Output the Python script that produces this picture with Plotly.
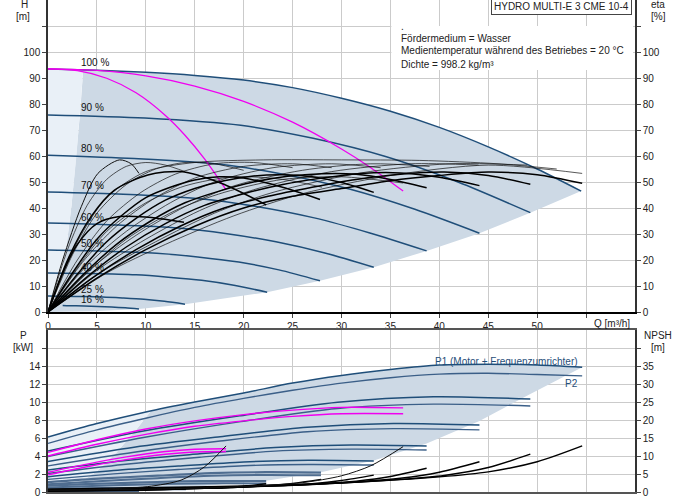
import plotly.graph_objects as go

FONT = "Liberation Sans, Arial, sans-serif"
BLUE = "#1f4e79"
BLUE2 = "#3b5f88"
BLUE_LOW = "#4f6d90"
MAG = "#f000f0"
DARK_FILL = "#cdd9e5"
LIGHT_FILL = "#e9f0f7"

# ---------------- tick data ----------------
Q_TICKS = list(range(0, 60, 5))
Q_TICK_TEXT = [str(v) for v in range(0, 55, 5)] + [""]
H_TICKS = list(range(0, 120, 10))
H_TICK_TEXT = [str(v) for v in range(0, 110, 10)] + [""]
P_TICKS = list(range(0, 18, 2))
P_TICK_TEXT = [str(v) for v in range(0, 16, 2)] + [""]
N_TICKS = list(range(0, 45, 5))
N_TICK_TEXT = [str(v) for v in range(0, 40, 5)] + [""]

# ---------------- H-Q curves (per speed) ----------------
SPEED_LABELS = ["100 %", "90 %", "80 %", "70 %", "60 %", "50 %", "40 %", "25 %", "16 %"]
LABEL_H = [95.8, 78.5, 62.7, 48.5, 36.5, 26.2, 17.3, 8.5, 5.0]

H100_Q = [0, 5, 10, 15, 20, 25, 30, 35, 40, 45, 50, 54.5]
H100 = [93.5, 93.0, 92.2, 91.0, 89.2, 86.3, 82.2, 77.2, 71.0, 63.5, 55.0, 46.5]
H90_Q = [0, 9.9, 19.7, 27.1, 34.5, 41.9, 49.3]
H90 = [75.8, 74.6, 71.8, 66.8, 59.8, 50.0, 38.2]
H80_Q = [0, 8.8, 17.6, 24.3, 30.9, 37.5, 44.1]
H80 = [60.3, 59.0, 56.8, 52.8, 47.2, 39.5, 30.3]
H70_Q = [0, 7.7, 15.5, 21.3, 27.1, 32.9, 38.7]
H70 = [46.2, 45.3, 43.6, 40.6, 36.3, 30.4, 23.5]
H60_Q = [0, 6.7, 13.3, 18.3, 23.3, 28.3, 33.3]
H60 = [34.2, 33.5, 32.3, 30.1, 27.0, 22.7, 17.2]
H50_Q = [0, 5.6, 11.1, 15.3, 19.5, 23.6, 27.8]
H50 = [23.8, 23.4, 22.6, 21.2, 19.2, 16.2, 12.0]
H40_Q = [0, 4.5, 9.0, 12.3, 15.7, 19.0, 22.4]
H40 = [15.0, 14.8, 14.3, 13.4, 12.2, 10.3, 7.6]
H25_Q = [0, 2.8, 5.6, 7.7, 9.8, 11.9, 14.0]
H25 = [6.2, 6.0, 5.8, 5.4, 4.9, 4.1, 3.0]
H16_Q = [1.5, 1.9, 3.7, 5.1, 6.5, 7.9, 9.3]
H16 = [2.5, 2.45, 2.3, 2.15, 1.9, 1.6, 1.2]

# shaded-area boundaries (top)
MINFLOW_Q = [0, 0.8, 1.4, 1.9, 2.4, 2.9, 3.3, 3.6]
MINFLOW_H = [0, 4.5, 13.9, 25.6, 40.9, 59.7, 77.3, 93.3]
MAXFLOW_Q = [54.5, 49.3, 44.1, 38.7, 33.3, 27.8, 22.4, 14.0, 9.3, 4.5, 0]
MAXFLOW_H = [46.5, 38.2, 30.3, 23.5, 17.2, 12.0, 7.6, 3.0, 1.2, 0.3, 0]

# magenta H curves
MAG_A_Q = [0, 3, 6, 9, 12, 14, 16, 18.2]
MAG_A_H = [93.5, 92.8, 89.9, 84.3, 75.6, 68.0, 58.9, 47.0]
MAG_B_Q = [0, 5, 10, 15, 20, 25, 30, 33, 36.3]
MAG_B_H = [93.5, 92.9, 90.8, 86.9, 81.0, 73.0, 62.7, 55.5, 46.5]

# ---------------- efficiency curves (eta %) ----------------
E100_Q = [0, 5, 10, 15, 20, 25, 30, 35, 40, 45, 50, 54.6]
E100 = [0, 13, 24, 33, 40, 44.5, 47.5, 50.5, 52.5, 53.8, 52.8, 49.5]
E90_Q = [0, 4.5, 9, 13.5, 18, 22.5, 27, 31.5, 36, 40.5, 45, 49.3]
E90 = [0, 13, 24, 33, 40, 44.5, 48, 51, 53, 53.8, 52.5, 49.1]
E80_Q = [0, 4, 8, 12, 16, 20, 24, 28, 32, 36, 40, 44.1]
E80 = [0, 13.5, 25, 34, 41, 45.5, 49, 51.5, 53.3, 53.5, 51.8, 48.6]
E70_Q = [0, 3.5, 7, 10.5, 14, 17.5, 21, 24.5, 28, 31.5, 35, 38.7]
E70 = [0, 14, 26, 35, 42, 46.5, 50, 52.2, 53.2, 53, 51, 47.8]
E60_Q = [0, 3, 6, 9, 12, 15, 18, 21, 24, 27, 30, 33.3]
E60 = [0, 14.5, 27, 36, 43, 47.5, 50.5, 52.3, 52.8, 52, 49.8, 46]
E50_Q = [0, 2.5, 5, 7.5, 10, 12.5, 15, 17.5, 20, 22.5, 25, 27.8]
E50 = [0, 15, 28, 37, 44, 48, 50.8, 52, 51.5, 49.5, 46.8, 43.3]
E40_Q = [0, 2, 4.4, 6.8, 10.2, 13.6, 17.7, 22.3]
E40 = [0, 20, 36.7, 46.9, 52.7, 54, 49.5, 41.2]
E25_Q = [0, 1.5, 3, 5, 7.3, 10, 13.9]
E25 = [0, 15, 26, 34, 36.7, 36.5, 34.5]
E16_Q = [0, 1.5, 3.4, 5.1, 7.3, 8.5, 9.3]
E16 = [0, 20, 40.5, 53.3, 58.5, 57, 53.3]

T1_Q = [0, 2, 4, 6, 8, 10, 12, 14]
T1 = [0, 24, 41, 51, 56, 57.5, 56.5, 54]
T2_Q = [0, 2.5, 5, 8, 11, 14, 17, 20]
T2 = [0, 22, 38, 49, 55, 57.5, 57, 54.5]
T3_Q = [0, 3, 6, 9.5, 13, 17, 21, 25]
T3 = [0, 20, 35, 46, 53, 57, 57.5, 55.5]
T4_Q = [0, 3.5, 7, 11, 15, 20, 25, 29]
T4 = [0, 19, 33, 44, 51.5, 56, 57, 55.5]
T5_Q = [0, 4, 8, 12.5, 17, 23, 29, 34]
T5 = [0, 18, 31, 42, 50, 55.5, 57, 55.5]
T6_Q = [0, 4.5, 9, 14, 19, 26, 33, 39]
T6 = [0, 17, 29.5, 40.5, 48.5, 54.5, 57, 56]
T7_Q = [0, 5, 10, 15.5, 21, 29, 37, 44]
T7 = [0, 16, 28, 39, 47, 54, 57, 56.5]
T8_Q = [0, 5.5, 11, 17, 23, 32, 41, 49]
T8 = [0, 15.5, 27, 38, 46, 53.5, 57, 56.5]
T9_Q = [0, 6, 12, 19, 26, 35, 45, 54.6]
T9 = [0, 15, 26, 37, 45.5, 52.5, 56.5, 53.3]
T10_Q = [0, 3, 6, 10, 15, 22, 30, 38, 46, 52]
T10 = [0, 27, 44, 54, 57.5, 58.5, 58.5, 58.3, 57, 55]
T11_Q = [0, 4, 8, 13, 18, 24, 30, 36.3]
T11 = [0, 15, 28, 39, 46, 51, 52, 49.6]
T12_Q = [0, 3, 6, 10, 14, 19, 24, 28]
T12 = [0, 17, 31, 42, 48.5, 52, 51, 48]

# ---------------- power curves (kW) ----------------
P1_100_Q = [0, 5, 10, 15, 20, 25, 30, 35, 40, 45, 50, 54.6]
P1_100 = [6.1, 7.6, 8.9, 10.0, 11.0, 12.1, 12.95, 13.6, 14.1, 14.2, 14.1, 13.85]
P2_100 = [5.4, 6.9, 8.2, 9.4, 10.4, 11.3, 12.1, 12.7, 13.1, 13.2, 13.05, 12.9]
P_90_Q = [0, 9.9, 19.7, 29.6, 39.4, 49.3]
P1_90 = [4.55, 6.80, 8.48, 9.98, 10.59, 10.33]
P2_90 = [3.95, 6.08, 7.82, 9.28, 9.76, 9.56]
P_80_Q = [0, 8.8, 17.6, 26.5, 35.3, 44.1]
P1_80 = [3.4, 4.98, 6.15, 7.20, 7.62, 7.44]
P2_80 = [2.9, 4.42, 5.66, 6.70, 7.04, 6.9]
P_70_Q = [0, 7.7, 15.5, 23.2, 31.0, 38.7]
P1_70 = [2.45, 3.48, 4.25, 4.94, 5.22, 5.1]
P2_70 = [2.05, 3.05, 3.86, 4.54, 4.76, 4.67]
P_60_Q = [0, 6.7, 13.3, 20.0, 26.6, 33.3]
P1_60 = [1.7, 2.38, 2.88, 3.34, 3.52, 3.44]
P2_60 = [1.4, 2.01, 2.5, 2.92, 3.06, 3.0]
P_50_Q = [0, 5.6, 11.2, 16.7, 22.3, 27.9]
P1_50 = [1.1, 1.51, 1.81, 2.09, 2.2, 2.15]
P2_50 = [0.85, 1.23, 1.54, 1.8, 1.89, 1.85]
P_40_Q = [0, 4.5, 8.9, 13.4, 17.8, 22.3]
P1_40 = [0.7, 0.9, 1.04, 1.17, 1.22, 1.2]
P2_40 = [0.5, 0.67, 0.81, 0.93, 0.97, 0.95]
P_25_Q = [0, 2.8, 5.6, 8.5, 11.3, 14.1]
P1_25 = [0.35, 0.39, 0.42, 0.44, 0.46, 0.45]
P2_25 = [0.25, 0.27, 0.28, 0.30, 0.30, 0.30]
P_16_Q = [0, 1.9, 3.7, 5.6, 7.4, 9.3]
P1_16 = [0.2, 0.2, 0.2, 0.2, 0.2, 0.2]
P2_16 = [0.1, 0.1, 0.1, 0.1, 0.1, 0.1]

# magenta power curves
PM_B_Q = [0, 5, 10, 15, 20, 25, 30, 36.3]
PM1_B = [4.4, 5.8, 7.0, 7.9, 8.6, 9.1, 9.4, 9.35]
PM2_B = [4.0, 5.3, 6.4, 7.3, 7.9, 8.4, 8.7, 8.7]
PM_A_Q = [0, 4, 8, 12, 15, 18.2]
PM1_A = [2.2, 3.1, 3.9, 4.5, 4.75, 4.8]
PM2_A = [1.9, 2.8, 3.6, 4.2, 4.45, 4.5]

# shaded-area boundaries (bottom)
PMIN_Q = [0, 3, 5, 7, 9, 10.5]
PMIN_P = [0, 0.9, 2.3, 4.4, 6.9, 9.0]
PMAX_Q = [54.6, 49.3, 44.1, 38.7, 33.3, 27.9, 22.3, 14.1, 0]
PMAX_P = [13.85, 10.9, 7.9, 5.4, 3.5, 2.2, 1.25, 0.5, 0]

# ---------------- NPSH curves (m) ----------------
N100_Q = [0, 10, 20, 30, 40, 45, 50, 54.6]
N100 = [0.8, 1.2, 1.7, 2.5, 4.2, 5.6, 8.4, 12.8]
N90_Q = [0, 9, 18, 27, 36, 40.5, 45, 49.3]
N90 = [0.7, 1.0, 1.4, 2.1, 3.5, 4.6, 6.8, 10.5]
N80_Q = [0, 8, 16, 24, 32, 36, 40, 44.1]
N80 = [0.6, 0.8, 1.2, 1.8, 2.9, 3.8, 5.5, 8.4]
N70_Q = [0, 7, 14, 21, 28, 31.5, 35, 38.7]
N70 = [0.5, 0.7, 1.0, 1.5, 2.3, 3.0, 4.3, 6.6]
N60_Q = [0, 6, 12, 18, 24, 27, 30, 33.3]
N60 = [0.4, 0.6, 0.8, 1.2, 1.8, 2.3, 3.2, 4.7]
N50_Q = [0, 5, 10, 15, 20, 22.5, 25, 27.9]
N50 = [0.3, 0.5, 0.7, 1.0, 1.4, 1.8, 2.4, 3.5]
N40_Q = [0, 4, 8, 12, 16, 18, 20, 22.3]
N40 = [0.3, 0.4, 0.5, 0.7, 1.0, 1.2, 1.6, 2.3]
N25_Q = [0, 5, 10, 14.1]
N25 = [0.2, 0.3, 0.5, 0.9]
NA_Q = [0, 5, 10.2, 13.6, 16, 18.2]
NA = [0.5, 0.8, 1.5, 3.3, 7.0, 12.8]
NB_Q = [0, 10, 20, 26, 30, 33, 36.3]
NB = [0.5, 0.8, 1.5, 2.6, 4.5, 7.3, 12.6]

# ---------------- figure ----------------
W, H = 691, 500
ML, MR, MT, MB = 48, 56, 0, 8
PW, PH = W - ML - MR, H - MT - MB


def px_x(px):
    return (px - ML) / PW


def px_y(py):
    return (H - MB - py) / PH


fig = go.Figure()


def line(x, y, color, width, xa="x", ya="y", shape="spline"):
    fig.add_trace(go.Scatter(x=x, y=y, mode="lines", xaxis=xa, yaxis=ya,
                             line=dict(color=color, width=width, shape=shape,
                                       smoothing=0.8),
                             hoverinfo="skip", showlegend=False))


def poly(x, y, color, xa="x", ya="y"):
    fig.add_trace(go.Scatter(x=x, y=y, mode="lines", fill="toself",
                             fillcolor=color, line=dict(width=0),
                             xaxis=xa, yaxis=ya, hoverinfo="skip",
                             showlegend=False))


# ---- top shading ----
top_q = [q for q in H100_Q if q > MINFLOW_Q[-1]]
top_h = [h for q, h in zip(H100_Q, H100) if q > MINFLOW_Q[-1]]
poly(MINFLOW_Q + top_q + MAXFLOW_Q, MINFLOW_H + top_h + MAXFLOW_H, DARK_FILL)
poly([0, 0] + MINFLOW_Q[::-1], [0, H100[0]] + MINFLOW_H[::-1], LIGHT_FILL)

# ---- H curves ----
H_CURVES = [(H100_Q, H100), (H90_Q, H90), (H80_Q, H80), (H70_Q, H70), (H60_Q, H60),
            (H50_Q, H50), (H40_Q, H40), (H25_Q, H25), (H16_Q, H16)]
for q, h in H_CURVES:
    line(q, h, BLUE, 1.5)

# ---- efficiency curves ----
THIN = [(T1_Q, T1), (T2_Q, T2), (T3_Q, T3), (T4_Q, T4), (T5_Q, T5), (T6_Q, T6),
        (T7_Q, T7), (T8_Q, T8), (T9_Q, T9), (T10_Q, T10), (T11_Q, T11), (T12_Q, T12)]
for q, e in THIN:
    line(q, e, "#111111", 0.7, ya="y2")
line(E16_Q, E16, "#111111", 1.0, ya="y2")
THICK = [(E100_Q, E100), (E90_Q, E90), (E80_Q, E80), (E70_Q, E70), (E60_Q, E60),
         (E50_Q, E50), (E40_Q, E40), (E25_Q, E25)]
for q, e in THICK:
    line(q, e, "#000000", 1.5, ya="y2")

# ---- magenta H curves ----
line(MAG_A_Q, MAG_A_H, MAG, 1.3)
line(MAG_B_Q, MAG_B_H, MAG, 1.3)

# ---- bottom shading ----
bq = [q for q in P1_100_Q if q > PMIN_Q[-1]]
bp = [p for q, p in zip(P1_100_Q, P1_100) if q > PMIN_Q[-1]]
poly(PMIN_Q + bq + PMAX_Q, PMIN_P + bp + PMAX_P, DARK_FILL, xa="x2", ya="y3")
lq = [q for q in P1_100_Q if q < PMIN_Q[-1]]
lp = [p for q, p in zip(P1_100_Q, P1_100) if q < PMIN_Q[-1]]
poly([0] + lq + PMIN_Q[::-1], [0] + lp + PMIN_P[::-1], LIGHT_FILL, xa="x2", ya="y3")

# ---- power curves ----
P_CURVES = [(P1_100_Q, P1_100, P2_100), (P_90_Q, P1_90, P2_90), (P_80_Q, P1_80, P2_80),
            (P_70_Q, P1_70, P2_70), (P_60_Q, P1_60, P2_60)]
for q, p1, p2 in P_CURVES:
    line(q, p2, BLUE2, 1.4, xa="x2", ya="y3")
    line(q, p1, BLUE, 1.5, xa="x2", ya="y3")
P_LOW = [(P_50_Q, P1_50, P2_50), (P_40_Q, P1_40, P2_40), (P_25_Q, P1_25, P2_25),
         (P_16_Q, P1_16, P2_16)]
for q, p1, p2 in P_LOW:
    line(q, p2, BLUE_LOW, 2.0, xa="x2", ya="y3")
    line(q, p1, BLUE_LOW, 2.2, xa="x2", ya="y3")

line(PM_B_Q, PM1_B, MAG, 1.4, xa="x2", ya="y3")
line(PM_B_Q, PM2_B, MAG, 1.4, xa="x2", ya="y3")
line(PM_A_Q, PM1_A, MAG, 1.4, xa="x2", ya="y3")
line(PM_A_Q, PM2_A, MAG, 1.4, xa="x2", ya="y3")

# ---- NPSH curves ----
N_CURVES = [(N100_Q, N100), (N90_Q, N90), (N80_Q, N80), (N70_Q, N70), (N60_Q, N60),
            (N50_Q, N50), (N40_Q, N40), (N25_Q, N25)]
for q, n in N_CURVES:
    line(q, n, "#000000", 1.4, xa="x2", ya="y4")
line(NA_Q, NA, "#111111", 1.0, xa="x2", ya="y4")
line(NB_Q, NB, "#111111", 1.0, xa="x2", ya="y4")

# ---------------- layout ----------------
tickfont = dict(family=FONT, size=10, color="#222222")
grid = "#cbcbcb"
top_dom = [px_y(312), 1.0]
bot_dom = [0.0, px_y(330)]

fig.update_layout(
    width=W, height=H,
    margin=dict(l=ML, r=MR, t=MT, b=MB),
    paper_bgcolor="white", plot_bgcolor="white",
    font=dict(family=FONT, size=10, color="#222222"),
    showlegend=False,
    xaxis=dict(domain=[0, 1], anchor="y", range=[0, 60], tickvals=Q_TICKS,
               ticktext=Q_TICK_TEXT, tickfont=tickfont, ticks="outside", ticklen=4,
               showgrid=True, gridcolor=grid, gridwidth=1, showline=True,
               linecolor="#000000", linewidth=2, zeroline=False),
    yaxis=dict(domain=top_dom, anchor="x", range=[0, 120], tickvals=H_TICKS,
               ticktext=H_TICK_TEXT, tickfont=tickfont, ticks="outside", ticklen=4,
               showgrid=True, gridcolor=grid, gridwidth=1, showline=True,
               linecolor="#333333", linewidth=1.5, zeroline=False),
    yaxis2=dict(overlaying="y", side="right", anchor="x", range=[0, 120],
                tickvals=H_TICKS, ticktext=H_TICK_TEXT, tickfont=tickfont,
                ticks="outside", ticklen=4, showgrid=False, showline=True,
                linecolor="#333333", linewidth=1.5, zeroline=False),
    xaxis2=dict(domain=[0, 1], anchor="y3", range=[0, 60], tickvals=Q_TICKS,
                showticklabels=False, ticks="", showgrid=True, gridcolor=grid,
                gridwidth=1, showline=True, mirror=True, linecolor="#555555",
                linewidth=1.5, zeroline=False),
    yaxis3=dict(domain=bot_dom, anchor="x2", range=[0, 18], tickvals=P_TICKS,
                ticktext=P_TICK_TEXT, tickfont=tickfont, ticks="outside", ticklen=4,
                showgrid=True, gridcolor=grid, gridwidth=1, showline=True,
                linecolor="#333333", linewidth=1.5, zeroline=False),
    yaxis4=dict(overlaying="y3", side="right", anchor="x2", range=[0, 45],
                tickvals=N_TICKS, ticktext=N_TICK_TEXT, tickfont=tickfont,
                ticks="outside", ticklen=4, showgrid=False, showline=True,
                linecolor="#333333", linewidth=1.5, zeroline=False),
)

# white box behind the info text
fig.add_shape(type="rect", xref="x", yref="y", x0=35.1, x1=59.8, y0=93.1, y1=110,
              fillcolor="white", line=dict(width=0), layer="between")

ann = []


def text(t, x, y, xref="paper", yref="paper", xanchor="center", color="#222222", **kw):
    ann.append(dict(text=t, x=x, y=y, xref=xref, yref=yref, xanchor=xanchor,
                    yanchor="middle", showarrow=False,
                    font=dict(family=FONT, size=10, color=color), **kw))


# axis titles
text("H", px_x(24), px_y(5))
text("[m]", px_x(23), px_y(17))
text("eta", px_x(658), px_y(5))
text("[%]", px_x(658), px_y(17))
text("P", px_x(23), px_y(336))
text("[kW]", px_x(23), px_y(347))
text("NPSH", px_x(658), px_y(336))
text("[m]", px_x(658), px_y(347))
text("Q [m³/h]", px_x(612), px_y(323))

# speed labels
for lab, hy in zip(SPEED_LABELS, LABEL_H):
    text(lab, 3.2, hy, xref="x", yref="y", xanchor="left", color="#111111")

# info text
text(".", px_x(399), px_y(26), xanchor="left")
text("Fördermedium = Wasser", px_x(399), px_y(38), xanchor="left")
text("Medientemperatur während des Betriebes = 20 °C", px_x(399), px_y(51), xanchor="left")
text("Dichte = 998.2 kg/m³", px_x(399), px_y(64), xanchor="left")

# power labels
text("P1 (Motor + Frequenzumrichter)", px_x(580), px_y(361), xanchor="right", color=BLUE)
text("P2", px_x(580), px_y(383), xanchor="right", color=BLUE)

# title box
ann.append(dict(text="HYDRO MULTI-E 3 CME 10-4", x=px_x(561), y=px_y(15),
                xref="paper", yref="paper", xanchor="center", yanchor="bottom",
                showarrow=False, bgcolor="white", bordercolor="#444444",
                borderwidth=1, borderpad=2,
                font=dict(family=FONT, size=10, color="#222222")))

fig.update_layout(annotations=ann)

fig.write_html("out.html", config={"displayModeBar": False},
               post_script="document.body.style.margin='0';document.body.style.padding='0';")
